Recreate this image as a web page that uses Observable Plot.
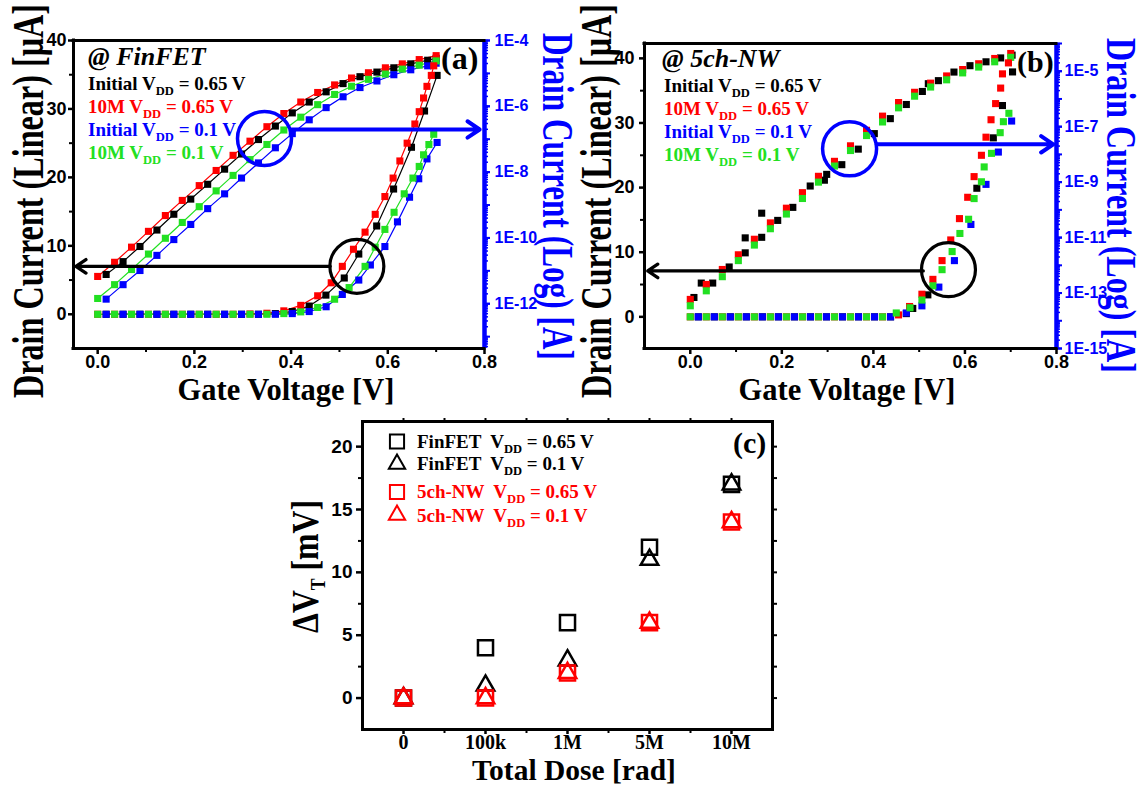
<!DOCTYPE html>
<html><head><meta charset="utf-8">
<script src="https://cdn.jsdelivr.net/npm/d3@7"></script>
<script src="https://cdn.jsdelivr.net/npm/@observablehq/plot@0.6"></script>
<style>
body{margin:0;background:#fff;}
#page{position:relative;width:1145px;height:787px;overflow:hidden;background:#fff;}
#page svg{position:absolute;left:0;top:0;overflow:visible;}
</style></head><body><div id="page"></div>
<script>
// ---------------- DATA ----------------
const BLACK = "#000000", RED = "#ff0000", BLUE = "#0000ff", GREEN = "#22e022";

// gate-voltage sweeps (V)
const vgA = [0,0.035,0.07,0.105,0.14,0.175,0.21,0.245,0.28,0.315,0.35,0.385,0.42,0.455,0.49,0.525,0.56,0.595,0.63,0.665,0.7];
const vgB = [0.0175,0.0525,0.0875,0.1225,0.1575,0.1925,0.2275,0.2625,0.2975,0.3325,0.3675,0.4025,0.4375,0.4725,0.5075,0.5425,0.5775,0.6125,0.6475,0.6825,0.7];

// (a) FinFET - log drain current, log10(A)
const finLogRed   = [-11.17,-10.74,-10.28,-9.80,-9.32,-8.86,-8.41,-7.95,-7.49,-7.06,-6.62,-6.22,-5.87,-5.58,-5.35,-5.14,-4.98,-4.83,-4.71,-4.58,-4.46];
const finLogBlack = [-11.11,-10.72,-10.26,-9.76,-9.28,-8.82,-8.37,-7.91,-7.45,-7.01,-6.60,-6.20,-5.87,-5.56,-5.31,-5.10,-4.96,-4.83,-4.71,-4.60,-4.54];
const finLogGreen = [-11.84,-11.42,-10.96,-10.49,-10.01,-9.53,-9.05,-8.57,-8.10,-7.62,-7.16,-6.72,-6.33,-5.95,-5.64,-5.39,-5.18,-5.02,-4.87,-4.75,-4.62];
const finLogBlue  = [-11.86,-11.42,-10.99,-10.53,-10.05,-9.59,-9.11,-8.66,-8.18,-7.72,-7.26,-6.83,-6.41,-6.04,-5.71,-5.43,-5.23,-5.04,-4.89,-4.77,-4.69];

// (a) FinFET - linear drain current (uA)
const finLinRedX   = [0,0.035,0.07,0.105,0.14,0.175,0.21,0.245,0.28,0.315,0.35,0.385,0.42,0.455,0.483,0.506,0.529,0.553,0.574,0.594,0.611,0.625,0.64,0.656,0.665,0.674,0.681,0.69,0.695];
const finLinRed    = [0,0,0,0,0,0,0,0,0,0.05,0.15,0.5,1.3,2.7,4.6,7.0,9.5,12.0,14.6,17.2,19.9,22.4,25.0,27.8,29.6,31.6,33.3,34.9,36.3];
const finLinBlackX = [0.0175,0.0525,0.0875,0.1225,0.1575,0.1925,0.2275,0.2625,0.2975,0.3325,0.3675,0.4025,0.4375,0.472,0.51,0.54,0.577,0.612,0.649,0.676,0.702];
const finLinBlack  = [0,0,0,0,0,0,0,0,0,0,0.1,0.4,1.2,2.8,5.3,8.8,12.9,18.3,24.4,29.7,34.9];
const finLinGreenX = [0,0.035,0.07,0.105,0.14,0.175,0.21,0.245,0.28,0.315,0.35,0.385,0.42,0.455,0.49,0.52,0.553,0.574,0.594,0.613,0.634,0.652,0.665,0.674,0.685,0.695];
const finLinGreen  = [0,0,0,0,0,0,0,0,0,0,0,0.1,0.35,1.0,2.2,3.9,7.0,9.8,12.4,14.9,17.6,19.9,21.6,23.3,24.8,26.3];
const finLinBlueX  = [0.0175,0.0525,0.0875,0.1225,0.1575,0.1925,0.2275,0.2625,0.2975,0.3325,0.3675,0.4025,0.4375,0.4725,0.506,0.54,0.564,0.594,0.62,0.645,0.664,0.681,0.702];
const finLinBlue   = [0,0,0,0,0,0,0,0,0,0,0,0.1,0.4,1.1,2.9,5.0,7.2,9.9,13.5,17.1,19.8,22.7,25.1];

// (b) 5ch-NW - log drain current, log10(A)
const nwLogRed    = [-13.23,-12.69,-12.15,-11.62,-11.06,-10.47,-9.94,-9.38,-8.79,-8.25,-7.69,-7.13,-6.62,-6.13,-5.76,-5.43,-5.17,-4.94,-4.73,-4.54,-4.36];
const nwLogGreen  = [-13.46,-12.92,-12.41,-11.83,-11.27,-10.68,-10.15,-9.59,-9.00,-8.42,-7.86,-7.32,-6.83,-6.32,-5.90,-5.57,-5.31,-5.06,-4.85,-4.66,-4.50];
const nwLogBlackX = [0.008,0.024,0.049,0.085,0.12,0.12,0.156,0.156,0.191,0.224,0.262,0.293,0.298,0.331,0.367,0.402,0.437,0.472,0.507,0.52,0.542,0.576,0.611,0.646,0.678,0.703];
const nwLogBlack  = [-13.16,-12.64,-12.64,-12.06,-11.55,-11.01,-10.99,-10.12,-10.38,-9.91,-9.14,-8.93,-8.72,-8.37,-7.81,-7.25,-6.71,-6.20,-5.73,-5.45,-5.34,-5.03,-4.80,-4.66,-4.52,-4.42];

// (b) 5ch-NW - linear drain current (uA)
const nwLinRedX   = [0,0.035,0.07,0.105,0.14,0.175,0.21,0.245,0.28,0.315,0.35,0.385,0.42,0.455,0.479,0.506,0.53,0.55,0.569,0.588,0.606,0.62,0.636,0.646,0.657,0.667,0.678,0.682,0.695];
const nwLinRed    = [0,0,0,0,0,0,0,0,0,0,0,0,0,0.3,1.6,3.5,5.8,8.7,11.9,15.2,18.5,21.7,25.0,27.8,30.5,33.0,35.4,37.6,39.3];
const nwLinBlackX = [0.0175,0.0525,0.0875,0.1225,0.1575,0.1925,0.2275,0.2625,0.2975,0.3325,0.3675,0.4025,0.4375,0.472,0.486,0.519,0.626,0.662,0.682,0.704];
const nwLinBlack  = [0,0,0,0,0,0,0,0,0,0,0,0,0,0.5,1.3,3.4,19.9,27.7,32.7,37.9];
const nwLinGreenX = [0,0.035,0.07,0.105,0.14,0.175,0.21,0.245,0.28,0.315,0.35,0.385,0.42,0.45,0.48,0.506,0.53,0.55,0.572,0.589,0.608,0.62,0.636,0.642,0.658,0.677,0.684,0.696];
const nwLinGreen  = [0,0,0,0,0,0,0,0,0,0,0,0,0,0.6,1.4,2.6,4.8,7.3,10.1,12.9,15.1,18.3,20.9,23.2,25.3,28.5,30.2,31.5];
const nwLinBlueX  = [0.0175,0.0525,0.0875,0.1225,0.1575,0.1925,0.2275,0.2625,0.2975,0.3325,0.3675,0.4025,0.4375,0.472,0.506,0.543,0.577,0.613,0.646,0.673,0.702];
const nwLinBlue   = [0,0,0,0,0,0,0,0,0,0,0,0,0,0.6,1.7,4.6,8.7,14.3,20.5,25.5,30.3];

// annotations (data coordinates, left axis units)
const finCircles = [{x:0.345, y:25.7, c:BLUE, w:3.5}, {x:0.536, y:7.0, c:BLACK, w:3.2}];
const finArrows  = [{x1:0.401, y1:27.0, x2:0.79, y2:27.0, c:BLUE, w:4}, {x1:0.481, y1:7.0, x2:-0.045, y2:7.0, c:BLACK, w:3.3}];
const nwCircles  = [{x:0.348, y:26.0, c:BLUE, w:3.5}, {x:0.564, y:7.3, c:BLACK, w:3.2}];
const nwArrows   = [{x1:0.407, y1:26.7, x2:0.793, y2:26.7, c:BLUE, w:4}, {x1:0.509, y1:7.1, x2:-0.093, y2:7.1, c:BLACK, w:3.3}];

// tick labels
const linTicks = [0,10,20,30,40], linMinor = [5,15,25,35];
const vgTicks = [0,0.2,0.4,0.6,0.8], vgMinor = [0.1,0.3,0.5,0.7];
const finLogTicks = [1e-4,1e-6,1e-8,1e-10,1e-12];
const nwLogTicks  = [1e-5,1e-7,1e-9,1e-11,1e-13,1e-15];

// (c) threshold voltage shift (mV)
const doses  = ["0","100k","1M","5M","10M"];
const finSq  = [0,4,6,12,17];
const finTri = [0,1,3,11,17];
const nwSq   = [0,0,2,6,14];
const nwTri  = [0,0,2,6,14];
const dvTicks = [0,5,10,15,20], dvMinor = [2.5,7.5,12.5,17.5];

// ---------------- RENDER ----------------
const W = 1145, H = 787;
const SANS = "'Liberation Sans', Arial, sans-serif";
const SERIF = "'Liberation Serif', 'Times New Roman', serif";
const page = document.getElementById("page");
const baseStyle = {background:"none", overflow:"visible", maxWidth:"none", fontFamily:SANS, fontWeight:"bold", fontSize:"18px"};
const blank = () => "";
const pts = (xs, ys) => xs.map((x, i) => ({x, y: ys[i]}));
const exps = (xs, es) => xs.map((x, i) => ({x, y: 10 ** es[i]}));
const minorLog = (lo, hi) => { const t = []; for (let e = -16; e <= -4; e++) for (let k = 1; k <= 9; k++) { const v = k * 10 ** e; if (v >= lo * 0.999 && v <= hi * 1.001) t.push(v); } return t; };

function ivPanel(cfg) {
  const margins = {marginLeft: cfg.l, marginRight: W - cfg.r, marginTop: cfg.t, marginBottom: H - cfg.b};
  // log layer (right axis)
  const logMarks = [];
  if (cfg.lines) for (const s of cfg.log) logMarks.push(Plot.line(exps(s.x, s.e), {x:"x", y:"y", stroke:s.c, strokeWidth:1.2}));
  for (const s of cfg.log) logMarks.push(Plot.dot(exps(s.x, s.e), {x:"x", y:"y", symbol:"square", r:4, fill:s.c}));
  const decades = minorLog(cfg.logDomain[0], cfg.logDomain[1]).filter(v => Math.abs(Math.log10(v) - Math.round(Math.log10(v))) < 1e-9);
  logMarks.push(
    Plot.ruleX([cfg.xDomain[1]], {stroke:BLUE, strokeWidth:4.5}),
    Plot.axisY(minorLog(cfg.logDomain[0], cfg.logDomain[1]), {anchor:"right", tickSize:3, strokeWidth:1.5, color:BLUE, tickFormat:blank, label:null}),
    Plot.axisY(decades, {anchor:"right", tickSize:5, strokeWidth:2, color:BLUE, tickFormat:blank, label:null}),
    Plot.axisY(cfg.logTicks, {anchor:"right", tickSize:5, tickPadding:cfg.rpad, strokeWidth:2, color:BLUE, fontSize:16, fontWeight:"bold", fontFamily:SANS, label:null,
      tickFormat: d => "1E" + Math.round(Math.log10(d))})
  );
  page.appendChild(Plot.plot({width:W, height:H, ...margins, style:baseStyle,
    x:{domain:cfg.xDomain, axis:null}, y:{type:"log", domain:cfg.logDomain, axis:null}, marks:logMarks}));

  // linear layer (left axis)
  const linMarks = [
    Plot.ruleY([cfg.yDomain[1]], {strokeWidth:3, strokeLinecap:"square"}),
    Plot.ruleY([cfg.yDomain[0]], {strokeWidth:3, strokeLinecap:"square"}),
    Plot.ruleX([cfg.xDomain[0]], {strokeWidth:3, strokeLinecap:"square"}),
    Plot.axisY(linTicks, {tickSize:5, tickPadding:cfg.lpad, strokeWidth:2.5, fontSize:18, fontWeight:"bold", fontFamily:SANS, label:null}),
    Plot.axisY(linMinor, {tickSize:4, strokeWidth:2, tickFormat:blank, label:null}),
    Plot.axisX(vgTicks, {tickSize:6, tickPadding:1, strokeWidth:2.5, fontSize:18, fontWeight:"bold", fontFamily:SANS, label:null, tickFormat:d3.format(".1f")}),
    Plot.axisX(vgMinor, {tickSize:4, strokeWidth:2, tickFormat:blank, label:null})
  ];
  if (cfg.lines) for (const s of cfg.lin) linMarks.push(Plot.line(pts(s.x, s.y), {x:"x", y:"y", stroke:s.c, strokeWidth:1.2}));
  for (const s of cfg.lin) linMarks.push(Plot.dot(pts(s.x, s.y), {x:"x", y:"y", symbol:"square", r:4, fill:s.c}));
  for (const c of cfg.circles) linMarks.push(Plot.dot([c], {x:"x", y:"y", r:27, stroke:c.c, strokeWidth:c.w, fill:"none"}));
  for (const a of cfg.arrows) linMarks.push(Plot.arrow([a], {x1:"x1", y1:"y1", x2:"x2", y2:"y2", stroke:a.c, strokeWidth:a.w, headLength:5.5, headAngle:68}));
  page.appendChild(Plot.plot({width:W, height:H, ...margins, style:baseStyle,
    x:{domain:cfg.xDomain}, y:{domain:cfg.yDomain}, marks:linMarks}));
}

ivPanel({
  l:73, r:484, t:40, b:348, xDomain:[-0.05,0.8], yDomain:[-5,40], logDomain:[10 ** -13.36, 1e-4],
  logTicks:finLogTicks, rpad:5, lpad:2, lines:true,
  log:[{x:vgB, e:finLogBlack, c:BLACK}, {x:vgA, e:finLogRed, c:RED}, {x:vgB, e:finLogBlue, c:BLUE}, {x:vgA, e:finLogGreen, c:GREEN}],
  lin:[{x:finLinBlackX, y:finLinBlack, c:BLACK}, {x:finLinRedX, y:finLinRed, c:RED}, {x:finLinBlueX, y:finLinBlue, c:BLUE}, {x:finLinGreenX, y:finLinGreen, c:GREEN}],
  circles:finCircles, arrows:finArrows
});
ivPanel({
  l:644, r:1056, t:43, b:348, xDomain:[-0.1,0.8], yDomain:[-4.9,42.3], logDomain:[1e-15, 1e-4],
  logTicks:nwLogTicks, rpad:3, lpad:5, lines:false,
  log:[{x:nwLogBlackX, e:nwLogBlack, c:BLACK}, {x:vgA, e:nwLogRed, c:RED}, {x:vgA, e:nwLogGreen, c:GREEN}],
  lin:[{x:nwLinBlackX, y:nwLinBlack, c:BLACK}, {x:nwLinRedX, y:nwLinRed, c:RED}, {x:nwLinBlueX, y:nwLinBlue, c:BLUE}, {x:nwLinGreenX, y:nwLinGreen, c:GREEN}],
  circles:nwCircles, arrows:nwArrows
});

// (c)
const cSeries = [
  {v:finSq, sym:"square", c:BLACK}, {v:finTri, sym:"triangle", c:BLACK},
  {v:nwSq, sym:"square", c:RED}, {v:nwTri, sym:"triangle", c:RED}
];
const idx = doses.map((d, i) => i);
page.appendChild(Plot.plot({
  width:W, height:H, marginLeft:362, marginRight:W - 772, marginTop:421, marginBottom:H - 729, style:baseStyle,
  x:{domain:[-0.5,4.5]}, y:{domain:[-2.5,22]},
  marks:[
    Plot.frame({strokeWidth:3}),
    Plot.axisY(dvTicks, {tickSize:6, tickPadding:4, strokeWidth:2.5, fontSize:19, fontWeight:"bold", fontFamily:SANS, label:null}),
    Plot.axisY(dvMinor, {tickSize:4, strokeWidth:2, tickFormat:blank, label:null}),
    Plot.axisY(dvTicks.concat(dvMinor), {anchor:"right", tickSize:4, strokeWidth:2, tickFormat:blank, label:null}),
    Plot.axisX(idx, {tickSize:5, strokeWidth:2.5, tickFormat:blank, label:null}),
    Plot.axisX(idx, {tickSize:0, tickPadding:5, fontSize:20, fontWeight:"bold", fontFamily:SERIF, label:null, tickFormat:i => doses[i]}),
    Plot.axisX([0.5,1.5,2.5,3.5], {tickSize:4, strokeWidth:2, tickFormat:blank, label:null}),
    Plot.axisX(idx.concat([0.5,1.5,2.5,3.5]), {anchor:"top", tickSize:4, strokeWidth:2, tickFormat:blank, label:null}),
    ...cSeries.map(s => Plot.dot(idx.map(i => ({i, v:s.v[i]})), {x:"i", y:"v", symbol:s.sym, r:s.sym === "square" ? 8.5 : 6.5, stroke:s.c, strokeWidth:2.5, fill:"none"}))
  ]
}));

// ---------------- TEXT OVERLAY ----------------
const ov = d3.select(page).append("svg").attr("width", W).attr("height", H);
function rich(x, y, parts, size, color, o = {}) {
  const t = ov.append("text").attr("x", x).attr("y", y).attr("fill", color)
    .attr("font-family", SERIF).attr("font-weight", "bold").attr("font-size", size)
    .attr("font-style", o.italic ? "italic" : "normal").attr("text-anchor", o.anchor || "start")
    .style("white-space", "pre");
  const subSize = o.subSize || size * 0.68, subDy = o.subDy || size * 0.3;
  let down = false;
  for (const [s, sub] of parts) {
    const ts = t.append("tspan").text(s);
    if (sub && !down) { ts.attr("dy", subDy).attr("font-size", subSize); down = true; }
    else if (!sub && down) { ts.attr("dy", -subDy); down = false; }
  }
  return t;
}
// a line of text with a subscript, each piece its own text element
function subLine(x, y, parts, size, color) {
  let cx = x;
  for (const [s, sub] of parts) {
    const fs = sub ? size * 0.66 : size;
    const t = ov.append("text").attr("x", cx).attr("y", sub ? y + size * 0.24 : y).attr("fill", color)
      .attr("font-family", SERIF).attr("font-weight", "bold").attr("font-size", fs)
      .style("white-space", "pre").text(s);
    cx += t.node().getComputedTextLength();
  }
}
function rot(x, y, angle, len, parts, size, color, o = {}) {
  const t = rich(0, 0, parts, size, color, o);
  const natural = t.node().getComputedTextLength();
  t.attr("transform", `translate(${x},${y}) rotate(${angle}) scale(${len / natural},1)`);
}

// axis titles
rot(43, 398, -90, 394, [["Drain Current (Linear) [μA]"]], 45, BLACK);
rot(611, 398, -90, 394, [["Drain Current (Linear) [μA]"]], 45, BLACK);
rot(543, 33, 90, 327, [["Drain Current (Log) [A]"]], 45, BLUE);
rot(1107, 38, 90, 335, [["Drain Current (Log) [A]"]], 42, BLUE);
rot(318, 633, -90, 133, [["ΔV"], ["T", 1], [" [mV]"]], 38, BLACK, {subSize:21, subDy:7});
rich(286, 400, [["Gate Voltage [V]"]], 30.5, BLACK, {anchor:"middle"});
rich(847, 400, [["Gate Voltage [V]"]], 30.5, BLACK, {anchor:"middle"});
rich(574, 780, [["Total Dose [rad]"]], 29.5, BLACK, {anchor:"middle"});

// panel tags
rich(441, 69, [["(a)"]], 32, BLACK);
rich(1017, 72, [["(b)"]], 30, BLACK);
rich(733, 453, [["(c)"]], 30, BLACK);
rich(88, 65, [["@ FinFET"]], 26, BLACK, {italic:true});
rich(662, 67, [["@ 5ch-NW"]], 26, BLACK, {italic:true});

// legends (a),(b)
const ivLegend = [
  {parts:[["Initial V"], ["DD", 1], [" = 0.65 V"]], c:BLACK},
  {parts:[["10M V"], ["DD", 1], [" = 0.65 V"]], c:RED},
  {parts:[["Initial V"], ["DD", 1], [" = 0.1 V"]], c:BLUE},
  {parts:[["10M V"], ["DD", 1], [" = 0.1 V"]], c:GREEN}
];
const legA = [90, 113, 136, 159], legB = [92, 115, 138, 161];
ivLegend.forEach((L, i) => { subLine(88, legA[i], L.parts, 19, L.c); subLine(664, legB[i], L.parts, 19, L.c); });

// legend (c)
const cLegend = [
  {parts:[["FinFET  V"], ["DD", 1], [" = 0.65 V"]], c:BLACK, sym:d3.symbolSquare, size:200, y:448, sy:441.5},
  {parts:[["FinFET  V"], ["DD", 1], [" = 0.1 V"]], c:BLACK, sym:d3.symbolTriangle, size:115, y:470, sy:464},
  {parts:[["5ch-NW  V"], ["DD", 1], [" = 0.65 V"]], c:RED, sym:d3.symbolSquare, size:200, y:498, sy:492},
  {parts:[["5ch-NW  V"], ["DD", 1], [" = 0.1 V"]], c:RED, sym:d3.symbolTriangle, size:115, y:522, sy:515}
];
cLegend.forEach(L => {
  ov.append("path").attr("d", d3.symbol(L.sym, L.size)()).attr("transform", `translate(397,${L.sy})`)
    .attr("fill", "none").attr("stroke", L.c).attr("stroke-width", 2);
  subLine(417, L.y, L.parts, 19, L.c);
});
</script></body></html>
